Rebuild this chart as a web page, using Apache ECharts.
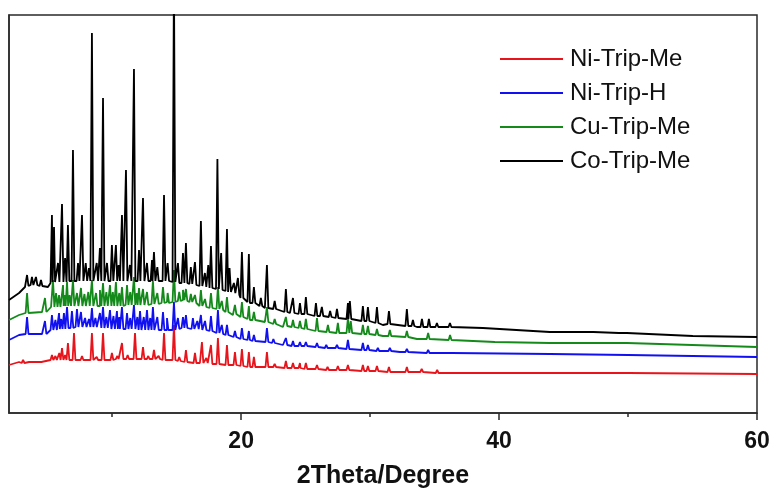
<!DOCTYPE html>
<html><head><meta charset="utf-8">
<script src="https://cdn.jsdelivr.net/npm/echarts/dist/echarts.min.js"></script>
<style>html,body{margin:0;padding:0;background:#fff}#c{width:772px;height:491px}</style>
</head><body><div id="c"></div>
<script>
const seriesNames = ['Ni-Trip-Me', 'Ni-Trip-H', 'Cu-Trip-Me', 'Co-Trip-Me'];
const seriesColors = ['#e8141c', '#1010f0', '#138a1a', '#000000'];
const xLabelTicks = [20, 40, 60];
const xMinorTicks = [10, 30, 50];
const axisTitle = '2Theta/Degree';

// Baselines: [2theta, intensity (a.u., stacked offset)]
const niMeBase = [[2.0,48],[2.78,51],[3.55,51],[5.26,53],[7.19,53],[10.5,54],[12.9,54],[14.5,53],[15.7,51],[16.8,50],[20.7,46],[24.6,45],[28.4,42],[32.3,41],[36.2,40],[43.9,40],[50,40],[55,39.5],[60,39]];
// Peaks: [2theta, foot, apex]
const niMePeaks = [[3.09,50,53],[4.4,51,53],[5.33,53,58],[5.6,53,57],[5.9,53,60],[6.11,53,65],[6.35,53,58],[6.57,53,70],[7.04,53,80],[7.66,53,57],[8.43,53,80],[8.8,53,56],[9.29,53,80],[9.98,53,60],[10.4,54,57],[10.76,54,70],[11.2,54,58],[11.77,54,80],[12.39,54,66],[12.8,54,57],[13.24,54,63],[13.6,54,57],[14.02,53,80],[14.79,53,88],[15.2,52,56],[15.72,51,63],[16.42,50,60],[16.96,50,71],[17.3,50,55],[17.66,49,68],[18.2,49,75],[18.9,48,68],[19.52,48,61],[20.06,47,64],[20.6,46,61],[20.99,46,56],[22.0,46,61],[22.6,46,49],[23.47,45,52],[24.02,45,50],[24.56,45,50],[25.02,44,50],[25.88,44,48],[26.7,43,46],[27.5,43,47],[28.28,43,48],[29.44,42,48],[29.83,42,47],[30.53,42,47],[31.46,41,46],[32.85,41,46],[34.0,41,44],[35.2,40,43],[47.2,40,41.5]];

const niHBase = [[2.0,73],[2.78,78],[4.56,79],[5.26,83],[7.19,86],[10.6,84],[14.25,83],[15.49,85],[18.12,80],[20.68,73],[23.24,68],[25.88,66],[28.43,63],[32.31,61],[36.19,60],[43.94,59],[50,58],[55,57],[60,56]];
const niHPeaks = [[3.40,79,96],[4.79,79,92],[5.33,83,98],[5.6,83,93],[5.88,84,100],[6.05,84,94],[6.26,84,100],[6.50,85,106],[6.88,85,102],[7.27,86,104],[7.58,86,101],[7.9,86,95],[8.2,86,94],[8.43,86,105],[8.7,86,95],[9.05,85,100],[9.29,85,106],[9.55,85,96],[9.83,84,103],[10.1,84,97],[10.37,84,102],[10.55,84,96],[10.76,84,106],[11.15,84,100],[11.4,84,95],[11.69,84,108],[11.95,84,96],[12.16,83,102],[12.45,83,96],[12.70,83,103],[12.95,83,95],[13.16,83,106],[13.5,83,96],[13.94,83,101],[14.25,83,95],[14.79,83,111],[15.1,84,95],[15.49,85,96],[15.72,85,98],[16.26,84,95],[16.6,84,92],[16.88,83,98],[17.2,83,92],[17.66,82,97],[18.2,80,103],[18.5,79,88],[18.9,78,88],[19.52,76,82],[20.06,74,85],[20.6,73,82],[20.99,72,78],[22.0,71,85],[22.5,70,74],[23.47,68,75],[24.02,67,72],[24.56,67,71],[25.02,67,71],[25.88,66,70],[26.6,65,68],[27.43,65,68],[28.28,64,73],[29.44,63,70],[29.83,63,68],[30.6,62,65],[31.53,62,65],[32.85,61,64],[34.5,60,63],[36.2,60,62]];

const cuMeBase = [[2.0,93],[2.78,98],[3.55,101],[4.56,101],[5.26,106],[7.19,108],[9.05,107],[12.0,108],[14.25,111],[15.49,113],[16.81,106],[18.12,103],[19.36,98],[20.68,93],[21.84,91],[23.24,86],[25.88,81],[28.43,79],[30.99,77],[33.63,74],[36.19,73],[39.67,71],[43.94,70],[49.9,70],[52.47,69],[60,66]];
const cuMePeaks = [[3.40,100,120],[4.79,101,115],[5.41,106,133],[5.65,106,120],[5.88,106,118],[6.19,106,128],[6.35,107,118],[6.50,107,131],[6.7,107,118],[6.96,107,133],[7.27,107,120],[7.58,107,125],[7.85,107,119],[8.15,107,121],[8.43,107,133],[8.75,107,120],[9.05,107,123],[9.29,107,130],[9.55,107,121],[9.83,107,128],[10.05,107,121],[10.29,107,131],[10.55,107,120],[10.76,107,126],[11.15,108,128],[11.4,108,121],[11.69,108,136],[11.9,108,120],[12.08,108,125],[12.39,108,124],[12.7,108,121],[13.16,109,132],[13.5,109,120],[13.94,110,126],[14.3,110,120],[14.79,111,143],[15.2,112,121],[15.49,113,123],[15.72,112,124],[16.1,111,119],[16.42,110,118],[16.88,107,123],[17.2,106,114],[17.66,105,120],[18.20,104,126],[18.5,103,112],[18.90,101,116],[19.52,99,108],[20.06,96,111],[20.6,94,107],[20.99,93,101],[22.0,91,106],[22.6,89,94],[23.47,87,96],[24.02,86,93],[24.56,85,92],[25.02,84,94],[25.88,82,95],[26.73,81,88],[27.50,80,90],[28.28,80,95],[28.5,80,92],[29.44,79,88],[29.83,79,87],[30.53,78,84],[31.53,77,83],[32.85,76,82],[34.5,74,80],[36.2,73,78],[45.7,70,72],[47.3,70,72]];

const coMeBase = [[2.0,113],[2.78,120],[3.24,126],[5.02,126],[5.57,131],[7.5,132],[10.6,132],[13.71,132],[15.49,130],[16.81,126],[19.36,120],[20.68,110],[21.84,105],[23.78,100],[26.11,97],[28.43,93],[30.99,88],[33.63,86],[38.74,85],[43.94,81],[49.91,80],[55.02,77],[60,76]];
const coMePeaks = [[3.40,127,138],[3.78,128,136],[4.09,128,136],[4.48,127,133],[5.33,130,198],[5.49,131,186],[5.8,131,150],[6.11,131,209],[6.35,131,155],[6.57,132,188],[6.96,132,263],[7.35,132,150],[7.66,132,198],[7.95,132,150],[8.2,132,145],[8.43,132,380],[8.8,132,150],[9.05,132,165],[9.29,132,315],[9.6,132,150],[9.98,132,168],[10.29,132,168],[10.5,132,148],[10.76,132,198],[11.07,132,243],[11.38,132,148],[11.69,132,344],[12.08,132,163],[12.39,132,215],[12.7,132,150],[13.09,132,153],[13.24,132,161],[13.5,132,146],[14.02,132,218],[14.3,132,150],[14.79,131,440],[15.1,130,150],[15.49,130,160],[15.72,130,170],[16.1,129,146],[16.42,128,151],[16.88,127,192],[17.19,126,140],[17.45,126,148],[17.66,125,167],[18.16,124,254],[18.45,123,160],[18.9,122,184],[19.1,121,145],[19.44,120,130],[19.75,118,135],[20.06,115,161],[20.6,111,159],[20.99,110,126],[21.53,107,115],[22.0,105,148],[22.6,104,112],[23.47,101,124],[24.02,100,115],[24.56,99,110],[25.02,99,116],[25.8,97,110],[26.26,97,106],[26.9,96,102],[27.43,95,104],[28.28,94,110],[28.43,94,112],[29.44,92,107],[29.83,92,106],[30.53,90,106],[31.46,89,102],[32.85,87,104],[33.32,87,93],[34.02,86,94],[34.56,86,94],[35.18,86,90],[36.19,86,90],[45.5,81,83],[47.2,81,83],[49.4,80,82]];

const HALF = 0.11; // half base width of a diffraction peak, in degrees
function buildPattern(base, peaks) {
  const pts = base.map(p => [p[0], p[1]]);
  peaks.forEach(([x, foot, apex]) => {
    pts.push([x - HALF, foot], [x, apex], [x + HALF, foot]);
  });
  pts.sort((a, b) => a[0] - b[0]);
  return pts;
}
const patterns = [
  buildPattern(niMeBase, niMePeaks),
  buildPattern(niHBase, niHPeaks),
  buildPattern(cuMeBase, cuMePeaks),
  buildPattern(coMeBase, coMePeaks)
];

const FONT = "'Liberation Sans', Arial, sans-serif";
const AX = '#2a2a2a';
const chart = echarts.init(document.getElementById('c'), null, {renderer: 'canvas'});
chart.setOption({
  animation: false,
  backgroundColor: '#fff',
  grid: {left: 9, right: 15, top: 15, bottom: 78, containLabel: false, outerBoundsMode: 'none', show: true, borderColor: AX, borderWidth: 1.5, backgroundColor: 'transparent'},
  legend: {
    data: seriesNames, orient: 'vertical', left: 500, top: 47, padding: 0,
    icon: 'rect', itemWidth: 63, itemHeight: 2, itemGap: 10,
    textStyle: {fontFamily: FONT, fontSize: 24, color: '#111', lineHeight: 24, padding: [0, 0, 0, 2]}
  },
  xAxis: [{
    type: 'value', min: 2, max: 60, position: 'bottom',
    axisLine: {show: true, lineStyle: {color: AX, width: 1.5}},
    axisTick: {show: true, customValues: xLabelTicks, length: 7, lineStyle: {color: AX, width: 1.5}},
    axisLabel: {show: true, customValues: xLabelTicks, margin: 17, fontFamily: FONT, fontSize: 23, fontWeight: 'bold', color: '#111'},
    splitLine: {show: false},
    name: axisTitle, nameLocation: 'middle', nameGap: 51,
    nameTextStyle: {fontFamily: FONT, fontSize: 25, fontWeight: 'bold', color: '#111'}
  }, {
    type: 'value', min: 2, max: 60, position: 'bottom',
    axisLine: {show: false},
    axisTick: {show: true, customValues: xMinorTicks, length: 4, lineStyle: {color: AX, width: 1.5}},
    axisLabel: {show: false},
    splitLine: {show: false}
  }],
  yAxis: {
    type: 'value', min: 0, max: 398,
    axisLine: {show: true, lineStyle: {color: AX, width: 1.5}},
    axisTick: {show: false}, axisLabel: {show: false}, splitLine: {show: false}
  },
  series: seriesNames.map((name, i) => ({
    name, type: 'line', data: patterns[i], xAxisIndex: 0,
    symbol: 'none', showSymbol: false, clip: true,
    color: seriesColors[i],
    lineStyle: {color: seriesColors[i], width: 1.8},
    emphasis: {disabled: true}
  }))
});
</script></body></html>
